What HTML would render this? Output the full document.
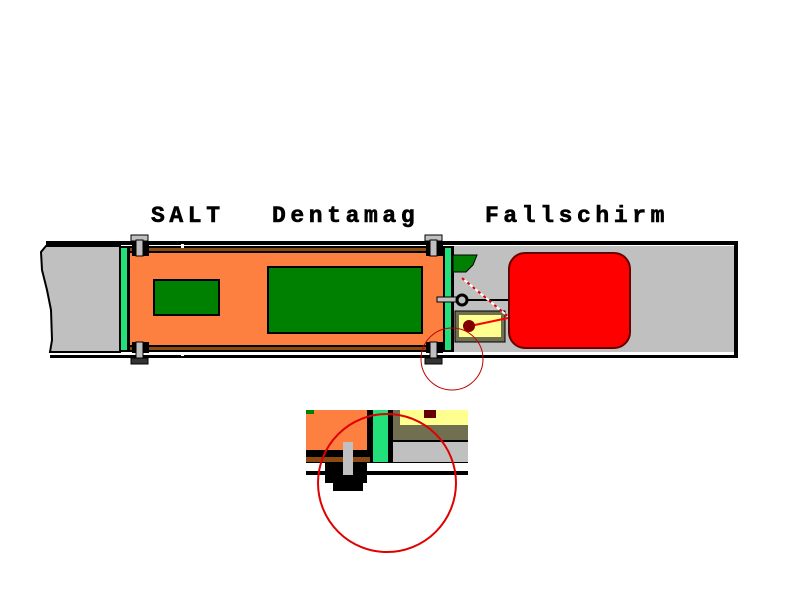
<!DOCTYPE html>
<html><head><meta charset="utf-8"><style>
html,body{margin:0;padding:0;background:#fff;width:800px;height:600px;overflow:hidden}
svg{display:block}
text{font-family:"Liberation Mono",monospace;font-weight:bold;font-size:23px;fill:#000;letter-spacing:4.6px;stroke:#000;stroke-width:0.6px}
</style></head><body>
<svg width="800" height="600" viewBox="0 0 800 600" xmlns="http://www.w3.org/2000/svg">
<rect width="800" height="600" fill="#fff"/>
<text x="151" y="222">SALT</text>
<text x="272" y="222">Dentamag</text>
<text x="485" y="222">Fallschirm</text>

<rect x="46" y="241" width="692" height="4" fill="#000"/>
<rect x="50" y="355" width="688" height="3" fill="#000"/>
<rect x="734" y="241" width="4" height="117" fill="#000"/>
<polygon points="46,246 41,252 42,270 47,290 51,310 52,340 50,352 120,352 120,246" fill="#c0c0c0" stroke="#000" stroke-width="2"/>
<rect x="452" y="246" width="282" height="106" fill="#c0c0c0"/>
<rect x="452" y="352" width="282" height="3" fill="#fff"/>
<rect x="119" y="246" width="11" height="106" fill="#000"/>
<rect x="121" y="248" width="6" height="102" fill="#22e07a"/>
<rect x="443" y="246" width="11" height="106" fill="#000"/>
<rect x="445" y="248" width="6" height="102" fill="#22e07a"/>
<rect x="128" y="246" width="316" height="7" fill="#000"/>
<rect x="130" y="248" width="312" height="3" fill="#8b4a0f"/>
<rect x="128" y="345" width="316" height="7" fill="#000"/>
<rect x="130" y="347" width="312" height="3" fill="#8b4a0f"/>
<rect x="181" y="244" width="3" height="4" fill="#fff"/>
<rect x="181" y="352" width="3" height="4" fill="#fff"/>
<rect x="130" y="253" width="313" height="92" fill="#fd8040"/>
<rect x="154" y="280" width="65" height="35" fill="#008000" stroke="#000" stroke-width="2"/>
<rect x="268" y="267" width="154" height="66" fill="#008000" stroke="#000" stroke-width="2"/>
<g>
<rect x="132" y="245" width="17" height="11" fill="#000"/>
<rect x="131" y="235" width="17" height="6" fill="#c0c0c0" stroke="#000" stroke-width="1"/>
<rect x="136" y="240" width="7" height="16" fill="#c0c0c0" stroke="#000" stroke-width="1"/>
<rect x="132" y="342" width="17" height="11" fill="#000"/>
<rect x="136" y="342" width="7" height="16" fill="#c0c0c0" stroke="#000" stroke-width="1"/>
<rect x="131" y="358" width="17" height="6" fill="#333" stroke="#000" stroke-width="1"/>
</g>
<g transform="translate(294,0)">
<rect x="132" y="245" width="17" height="11" fill="#000"/>
<rect x="131" y="235" width="17" height="6" fill="#c0c0c0" stroke="#000" stroke-width="1"/>
<rect x="136" y="240" width="7" height="16" fill="#c0c0c0" stroke="#000" stroke-width="1"/>
<rect x="132" y="342" width="17" height="11" fill="#000"/>
<rect x="136" y="342" width="7" height="16" fill="#c0c0c0" stroke="#000" stroke-width="1"/>
<rect x="131" y="358" width="17" height="6" fill="#333" stroke="#000" stroke-width="1"/>
</g>
<polygon points="453,255 477,255 473,265 466,272 453,272" fill="#008000" stroke="#000" stroke-width="1"/>
<rect x="437" y="297" width="22" height="5" fill="#c0c0c0" stroke="#000" stroke-width="1"/>
<line x1="462" y1="300" x2="510" y2="300" stroke="#000" stroke-width="2"/>
<circle cx="462" cy="300" r="5" fill="#c0c0c0" stroke="#000" stroke-width="3"/>
<rect x="455" y="311" width="50" height="31" fill="#707050" stroke="#000" stroke-width="1"/>
<rect x="459" y="315" width="42" height="22" fill="#ffff90"/>
<line x1="462" y1="278" x2="510" y2="318" stroke="#fff" stroke-width="2"/>
<line x1="462" y1="278" x2="510" y2="318" stroke="#e00000" stroke-width="2" stroke-dasharray="3,4"/>
<line x1="470" y1="326" x2="508" y2="318" stroke="#ff0000" stroke-width="2"/>
<circle cx="469" cy="326" r="6" fill="#800000"/>
<rect x="509" y="253" width="121" height="95" rx="16" fill="#ff0000" stroke="#600" stroke-width="2"/>
<circle cx="452" cy="359" r="31" fill="none" stroke="#c00000" stroke-width="1"/>
<rect x="306" y="410" width="162" height="65" fill="#000"/>
<rect x="306" y="410" width="61" height="40" fill="#fd8040"/>
<rect x="306" y="410" width="8" height="4" fill="#008000"/>
<rect x="373" y="410" width="15" height="52" fill="#22e07a"/>
<rect x="393" y="410" width="75" height="30" fill="#707050"/>
<rect x="400" y="410" width="68" height="15" fill="#ffff90"/>
<rect x="424" y="410" width="12" height="8" fill="#600"/>
<rect x="393" y="442" width="75" height="20" fill="#c0c0c0"/>
<rect x="306" y="457" width="64" height="5" fill="#8b4a0f"/>
<rect x="306" y="463" width="162" height="8" fill="#fff"/>
<rect x="325" y="463" width="42" height="20" fill="#000"/>
<rect x="343" y="442" width="10" height="33" fill="#c0c0c0"/>
<rect x="333" y="483" width="30" height="8" fill="#000"/>
<circle cx="387" cy="483" r="69" fill="none" stroke="#e00000" stroke-width="2"/>
</svg>
</body></html>
